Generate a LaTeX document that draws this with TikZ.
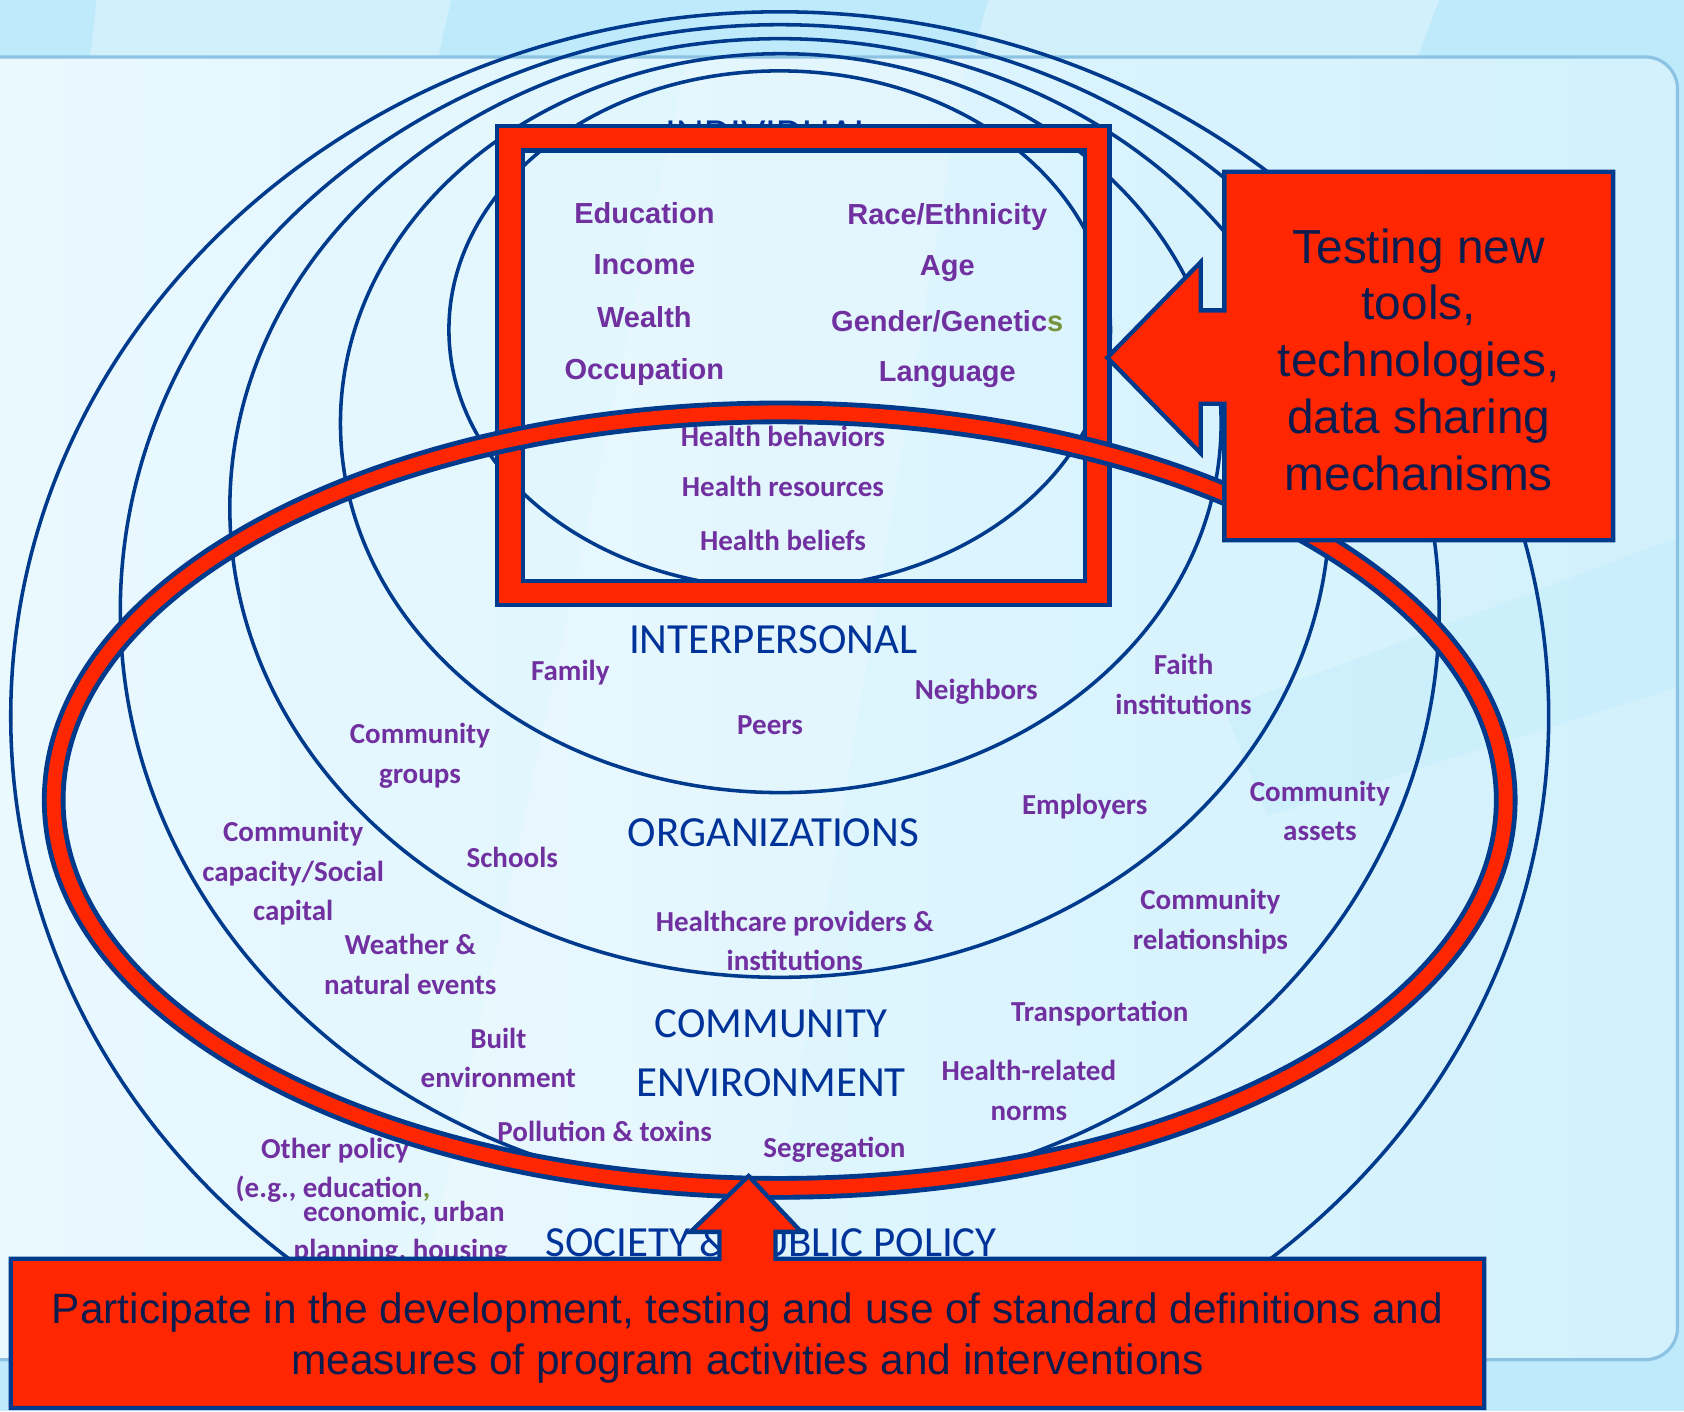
\documentclass[tikz,border=0pt]{standalone}
\usepackage{fontspec}
\setmainfont{Carlito}
\newfontfamily\arialfont{Liberation Sans}
\usetikzlibrary{positioning}

\definecolor{rimblue}{RGB}{0,58,140}
\definecolor{boxred}{RGB}{255,38,0}
\definecolor{labpurple}{RGB}{112,48,160}
\definecolor{zoneblue}{RGB}{0,51,153}
\definecolor{navytext}{RGB}{12,28,78}
\definecolor{tipgreen}{RGB}{118,146,60}
\definecolor{skytop}{RGB}{190,234,252}
\definecolor{panelleft}{RGB}{234,249,254}
\definecolor{panelright}{RGB}{210,241,252}
\definecolor{panelrim}{RGB}{140,195,227}

\tikzset{
  ring/.style={draw=rimblue, line width=3.3pt},
  fact/.style={text=labpurple, inner sep=0pt, align=center,
    font=\fontsize{27}{37}\selectfont\bfseries},
  corefact/.style={text=labpurple, inner sep=0pt,
    font=\arialfont\fontsize{27}{32}\selectfont\bfseries},
  zone/.style={text=zoneblue, inner sep=0pt, align=center,
    font=\fontsize{40}{55}\selectfont},
  callout/.style={fill=boxred, draw=rimblue, line width=4pt, line join=miter},
}

\begin{document}
\begin{tikzpicture}[x=1pt,y=-1pt]
    \useasboundingbox (0,0) rectangle (1568,1314);
    % backdrop
    \fill[skytop] (0,0) rectangle (1568,1314);
    \fill[white,opacity=0.3] (90,0) -- (420,0) -- (408,53) -- (84,53) -- cycle;
    \fill[white,opacity=0.3] (920,0) -- (1340,0) -- (1320,53) -- (906,53) -- cycle;
    \shade[left color=panelleft, right color=panelright, rounded corners=30pt]
      (-40,53) rectangle (1562,1266);
    \fill[white,opacity=0.18] (380,1266) -- (640,53) -- (900,53) -- (700,1266) -- cycle;
    \fill[skytop,opacity=0.35] (1140,660) -- (1562,500) -- (1562,640) -- (1180,760) -- cycle;
    \draw[panelrim, line width=3pt, rounded corners=30pt] (-40,53) rectangle (1562,1266);

    % levels, outside in
    \begin{scope}
      \clip (0,0) rectangle (1568,1290);
      \draw[ring] (726,667) ellipse [x radius=716, y radius=656];
      \draw[ring] (726,569) ellipse [x radius=614, y radius=546];
      \draw[ring] (726,473) ellipse [x radius=512, y radius=437];
      \draw[ring] (727,394) ellipse [x radius=410, y radius=344];
      \draw[ring] (726,307) ellipse [x radius=308, y radius=241];
    \end{scope}

    % individual level
    \node[zone] (lindiv) at (716,126) {INDIVIDUAL};
    \node[corefact] (edu) at (600,198) {Education};
    \node[corefact] (inc) at (600,246) {Income};
    \node[corefact] (wea) at (600,295) {Wealth};
    \node[corefact] (occ) at (600,346) {Occupation};
    \node[corefact] (race) at (882,202) {Race/Ethnicity};
    \node[corefact] (age) at (882,250) {Age};
    \node[corefact] (gen) at (882,299) {Gender/Genetic{\color{tipgreen}s}};
    \node[corefact] (lang) at (882,349) {Language};
    \node[fact] (hbeh) at (729,406) {Health behaviors};
    \node[fact] (hres) at (729,453) {Health resources};
    \node[fact] (hbel) at (729,503) {Health beliefs};

    % interpersonal level
    \node[zone] (linter) at (720,596) {INTERPERSONAL};
    \node[fact] (fam) at (531,626) {Family};
    \node[fact] (peers) at (717,675) {Peers};
    \node[fact] (neigh) at (909,644) {Neighbors};

    % organizations level
    \node[zone] (lorg) at (720,775) {ORGANIZATIONS};
    \node[fact] (faith) at (1102,637) {Faith\\institutions};
    \node[fact] (cgroups) at (391,704) {Community\\groups};
    \node[fact] (empl) at (1010,751) {Employers};
    \node[fact] (schools) at (477,798) {Schools};
    \node[fact] (hcare) at (740,876) {Healthcare providers \&\\institutions};

    % community level
    \node[zone] (lcomm) at (718,981) {COMMUNITY\\ENVIRONMENT};
    \node[fact] (cassets) at (1229,755) {Community\\assets};
    \node[fact] (ccap) at (273,813) {Community\\capacity/Social\\capital};
    \node[fact] (crel) at (1127,858) {Community\\relationships};
    \node[fact] (weather) at (382,898) {Weather \&\\natural events};
    \node[fact] (transp) at (1024,944) {Transportation};
    \node[fact] (built) at (464,985) {Built\\environment};
    \node[fact] (hnorms) at (958,1015) {Health-related\\norms};
    \node[fact] (poll) at (563,1053) {Pollution \& toxins};
    \node[fact] (segr) at (777,1071) {Segregation};

    % society level
    \node[fact] (opol) at (312,1071) {Other policy};
    \node[fact] (eg) at (310,1107) {(e.g., education{\color{tipgreen},}};
    \node[fact] (econ) at (376,1130) {economic, urban};
    \node[fact] (plan) at (373,1166) {planning, housing};
    \node[zone] (lsoc) at (718,1156) {SOCIETY \& PUBLIC POLICY};

    % highlight on the individual level
    \filldraw[boxred, draw=rimblue, line width=4pt, even odd rule]
      (463,117) rectangle (1033,563) (487,140) rectangle (1010,541);

    % highlight across the levels
    \draw[rimblue, line width=22pt] (726,745) ellipse [x radius=676, y radius=361];
    \draw[boxred, line width=13pt] (726,745) ellipse [x radius=676, y radius=361];

    % callouts
    \draw[callout] (1140,160) -- (1502,160) -- (1502,503) -- (1140,503)
      -- (1140,376) -- (1118,376) -- (1118,422) -- (1031,333)
      -- (1118,244) -- (1118,289) -- (1140,289) -- cycle;
    \node[text=navytext, align=center, font=\arialfont\fontsize{44.5}{53}\selectfont]
      (ttools) at (1321,335) {Testing new\\tools,\\technologies,\\data sharing\\mechanisms};

    \draw[callout] (10,1172) -- (670,1172) -- (670,1147) -- (643,1147)
      -- (697,1095) -- (746,1147) -- (722,1147) -- (722,1172)
      -- (1382,1172) -- (1382,1311) -- (10,1311) -- cycle;
    \node[text=navytext, align=center, font=\arialfont\fontsize{39.5}{47}\selectfont]
      (tpart) at (696,1246) {Participate in the development, testing and use of standard definitions and\\measures of program activities and interventions};
\end{tikzpicture}
\end{document}
